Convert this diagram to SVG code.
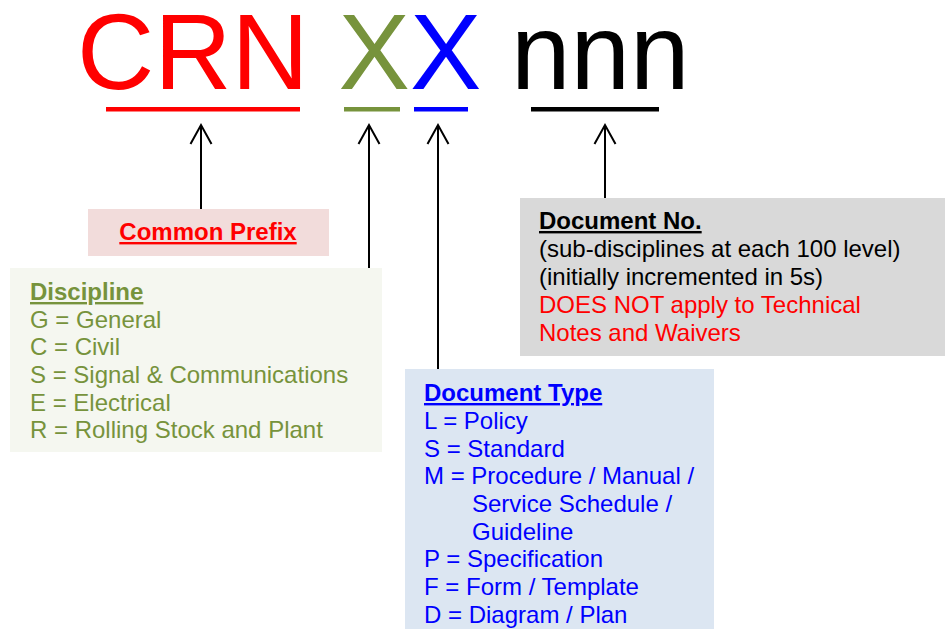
<svg xmlns="http://www.w3.org/2000/svg" width="945" height="629" viewBox="0 0 945 629">
<defs>
<style>
text{font-family:"Liberation Sans",Arial,sans-serif;}
.t{font-size:24px;}
.b{font-weight:bold;text-decoration:underline;}
.conn{stroke:#000;stroke-width:2;fill:none;}
.red{fill:#FF0000;}
.grn{fill:#77933C;}
.blu{fill:#0000FF;}
.blk{fill:#000;}
</style>
<marker id="ah" markerUnits="userSpaceOnUse" viewBox="-22 -12 24 24" refX="0" refY="0" markerWidth="24" markerHeight="24" orient="auto" overflow="visible">
<path d="M-19,-10.5 L0,0 L-19,10.5" fill="none" stroke="#000" stroke-width="2"/>
</marker>
</defs>
<rect width="945" height="629" fill="#fff"/>

<g id="code">
<text x="77" y="89" style="font-size:107px"><tspan class="red">CRN</tspan> <tspan fill="#77933C">X</tspan><tspan class="blu">X</tspan> <tspan class="blk">nnn</tspan></text>
<rect x="106" y="107" width="194" height="4.5" fill="#FF0000"/>
<rect x="344" y="107" width="56" height="4.5" fill="#77933C"/>
<rect x="414" y="107" width="54" height="4.5" fill="#0000FF"/>
<rect x="531" y="107" width="128" height="4.5" fill="#000"/>
</g>

<g id="connectors">
<line class="conn" x1="201" y1="209" x2="201" y2="125" marker-end="url(#ah)"/>
<line class="conn" x1="369" y1="268" x2="369" y2="125" marker-end="url(#ah)"/>
<line class="conn" x1="438" y1="370" x2="438" y2="125" marker-end="url(#ah)"/>
<line class="conn" x1="605" y1="198" x2="605" y2="125" marker-end="url(#ah)"/>
</g>

<g id="common-prefix">
<rect x="88" y="209" width="241" height="47" fill="#F2DCDB"/>
<text x="208" y="240" class="t b red" text-anchor="middle">Common Prefix</text>
</g>

<g id="discipline">
<rect x="10" y="268" width="372" height="184" fill="#F5F7F0"/>
<text class="t grn" x="30">
<tspan x="30" y="300" class="b">Discipline</tspan>
<tspan x="30" y="327.5">G = General</tspan>
<tspan x="30" y="355">C = Civil</tspan>
<tspan x="30" y="383">S = Signal &amp; Communications</tspan>
<tspan x="30" y="410.5">E = Electrical</tspan>
<tspan x="30" y="438">R = Rolling Stock and Plant</tspan>
</text>
</g>

<g id="document-type">
<rect x="405" y="369" width="309" height="260" fill="#DCE6F2"/>
<text class="t blu">
<tspan x="424" y="401" class="b">Document Type</tspan>
<tspan x="424" y="429">L = Policy</tspan>
<tspan x="424" y="456.5">S = Standard</tspan>
<tspan x="424" y="484">M = Procedure / Manual /</tspan>
<tspan x="472" y="512">Service Schedule /</tspan>
<tspan x="472" y="539.5">Guideline</tspan>
<tspan x="424" y="567">P = Specification</tspan>
<tspan x="424" y="595">F = Form / Template</tspan>
<tspan x="424" y="622.5">D = Diagram / Plan</tspan>
</text>
</g>

<g id="document-no">
<rect x="520" y="198" width="425" height="158" fill="#D9D9D9"/>
<text class="t">
<tspan x="539" y="229" class="b blk">Document No.</tspan>
<tspan x="539" y="257" class="blk">(sub-disciplines at each 100 level)</tspan>
<tspan x="539" y="285" class="blk">(initially incremented in 5s)</tspan>
<tspan x="539" y="313" class="red">DOES NOT apply to Technical</tspan>
<tspan x="539" y="340.5" class="red">Notes and Waivers</tspan>
</text>
</g>
</svg>
